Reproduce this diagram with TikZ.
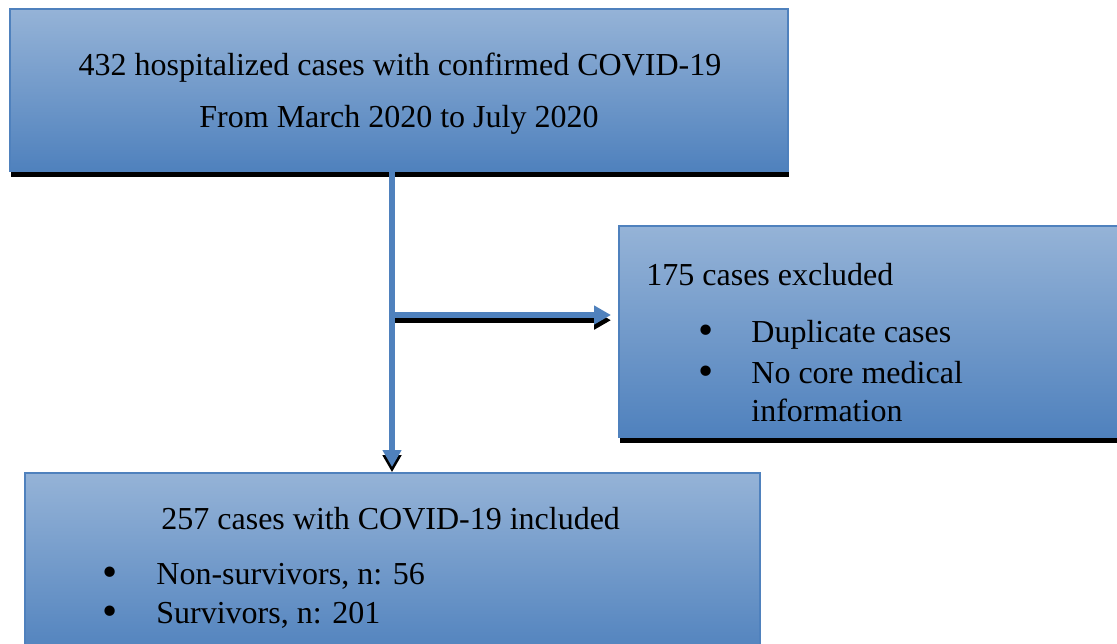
\documentclass[tikz,border=0pt]{standalone}
\usepackage{fontspec}
\setmainfont{Liberation Serif}
\usetikzlibrary{arrows.meta,shadows,fit}
\definecolor{boxtop}{HTML}{95B3D7}
\definecolor{boxbot}{HTML}{4F81BD}
\definecolor{boxline}{HTML}{4F81BD}
\newcommand{\bigbul}{\raisebox{-0.15ex}{\scalebox{1.35}{\textbullet}}}
\tikzset{
  flowbox/.style={draw=boxline, line width=1pt, rectangle, inner sep=0pt,
    top color=boxtop, bottom color=boxbot,
    drop shadow={shadow xshift=0.4pt, shadow yshift=-2.8pt, fill=black, opacity=1}},
  txt/.style={inner sep=0pt, font=\fontsize{16}{19}\selectfont, text=black},
  conn/.style={draw=boxline, line width=3pt},
  connshadow/.style={draw=black, line width=3pt},
  tip/.style={-{Triangle[length=8.5pt,width=9pt]}}
}
\begin{document}
\begin{tikzpicture}[x=0.5pt,y=-0.5pt]
\useasboundingbox (0,0) rectangle (1117,643);
% boxes
\node[flowbox, fit={(10,9) (788,171)}] (top) {};
\node[flowbox, fit={(619,226) (1125,437)}] (excl) {};
\node[flowbox, fit={(25,473) (760,660)}] (incl) {};
% texts
\node[txt, anchor=base] (t1) at (400,75) {432 hospitalized cases with confirmed COVID-19};
\node[txt, anchor=base] (t2) at (399,127) {From March 2020 to July 2020};
\node[txt, anchor=base west] (e0) at (646,285) {175 cases excluded};
\node[txt, anchor=base] (eb1) at (706,342) {\bigbul};
\node[txt, anchor=base west] (e1) at (751,342) {Duplicate cases};
\node[txt, anchor=base] (eb2) at (706,383) {\bigbul};
\node[txt, anchor=base west] (e2) at (751,383) {No core medical};
\node[txt, anchor=base west] (e3) at (751,421) {information};
\node[txt, anchor=base west] (i0) at (161,529) {257 cases with COVID-19 included};
\node[txt, anchor=base] (ib1) at (110,584) {\bigbul};
\node[txt, anchor=base west] (i1) at (156,584) {Non-survivors, n: 56};
\node[txt, anchor=base] (ib2) at (110,623) {\bigbul};
\node[txt, anchor=base west] (i2) at (156,623) {Survivors, n: 201};
% connectors
\coordinate (branch) at (392,315);
\coordinate (vend) at (392,467);
\coordinate (hend) at (611,315);
\begin{scope}[transform canvas={yshift=-2.6pt}]
\draw[connshadow, tip] (branch) -- (hend);
\draw[connshadow, tip] (branch) -- (vend);
\end{scope}
\draw[conn] (top.south -| branch) -- (branch);
\draw[conn, tip] (branch) -- (vend);
\draw[conn, tip] (branch) -- (hend);
\end{tikzpicture}
\end{document}
